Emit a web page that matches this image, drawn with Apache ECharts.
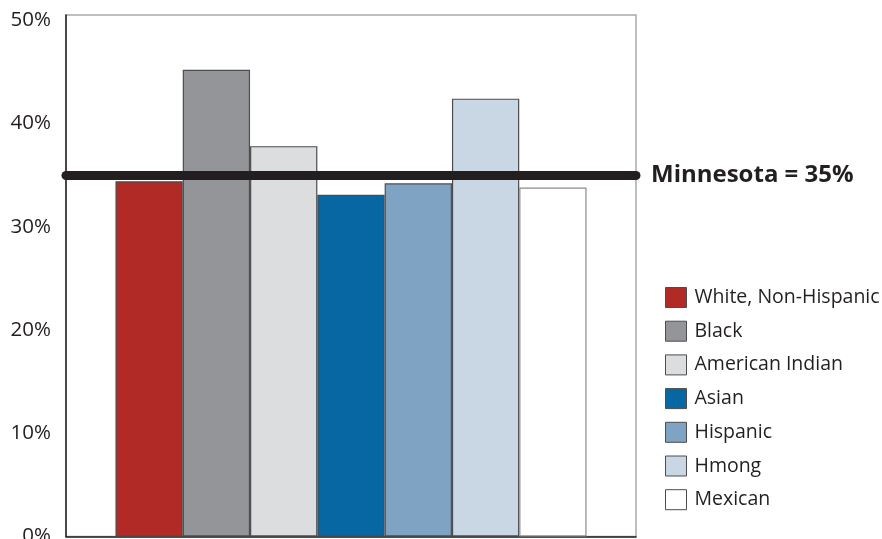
<!DOCTYPE html>
<html>
<head>
<meta charset="utf-8">
<script src="https://cdn.jsdelivr.net/npm/echarts@6/dist/echarts.min.js"></script>
<style>
  html, body { margin: 0; padding: 0; background: #fff; }
  #chart { width: 882px; height: 539px; }
</style>
</head>
<body>
<div id="chart"></div>
<script>
// Share of residents by group, compared with the statewide rate
const groups = ['White, Non-Hispanic', 'Black', 'American Indian', 'Asian', 'Hispanic', 'Hmong', 'Mexican'];
const shares = [34.4, 45.2, 37.8, 33.1, 34.2, 42.4, 33.8];
const groupColors = ['#b22a26', '#939598', '#dcddde', '#0767a3', '#7fa3c3', '#c9d7e4', '#ffffff'];
const stateRate = 35;
const stateLabel = 'Minnesota = ' + stateRate + '%';
const yTicks = [0, 10, 20, 30, 40, 50];

const FONT = '"Open Sans", "Noto Sans", sans-serif';
const INK = '#231f20';

const series = groups.map((name, i) => ({
  name: name,
  type: 'bar',
  data: [shares[i]],
  barWidth: 67.3,
  barGap: '0%',
  itemStyle: {
    color: groupColors[i],
    borderColor: i === groups.length - 1 ? '#8a8a8c' : '#4d4d4f',
    borderWidth: 1.2
  }
}));

// Statewide reference line with its label at the right end
series[0].markLine = {
  silent: true,
  symbol: 'none',
  z: 10,
  lineStyle: { color: INK, width: 9, type: 'solid', cap: 'round', opacity: 1 },
  label: {
    show: true,
    position: 'end',
    distance: 15,
    formatter: stateLabel,
    color: INK,
    fontFamily: FONT,
    fontWeight: 'bold',
    fontSize: 24
  },
  emphasis: { disabled: true },
  data: [{ yAxis: stateRate }]
};

const chart = echarts.init(document.getElementById('chart'), null, { renderer: 'canvas' });
chart.setOption({
  animation: false,
  backgroundColor: '#ffffff',
  grid: {
    left: 66, right: 246, top: 15, bottom: 2.5,
    outerBoundsMode: 'none',
    containLabel: false,
    show: true, borderColor: '#a7a9ac', borderWidth: 1.5, backgroundColor: 'transparent'
  },
  legend: {
    orient: 'vertical',
    left: 665,
    top: 287,
    padding: 0,
    itemWidth: 21,
    itemHeight: 20,
    itemGap: 12.7,
    icon: 'rect',
    selectedMode: false,
    itemStyle: { borderColor: '#4d4d4f', borderWidth: 1 },
    textStyle: { fontFamily: FONT, fontSize: 19.5, color: INK, padding: [0, 0, 0, 3] },
    data: groups
  },
  xAxis: {
    type: 'category',
    position: 'top',
    data: [''],
    axisLine: { show: true, lineStyle: { color: INK, width: 1.5 } },
    axisTick: { show: false },
    axisLabel: { show: false },
    splitLine: { show: false }
  },
  yAxis: {
    type: 'value',
    min: 0,
    max: 50.5,
    interval: 10,
    axisLine: { show: true, lineStyle: { color: INK, width: 1.5 } },
    axisTick: { show: false },
    splitLine: { show: false },
    axisLabel: {
      showMaxLabel: false,
      margin: 15,
      color: INK,
      fontFamily: FONT,
      fontSize: 20.5,
      formatter: v => (yTicks.indexOf(v) >= 0 ? v + '%' : '')
    }
  },
  series: series
});
</script>
</body>
</html>
